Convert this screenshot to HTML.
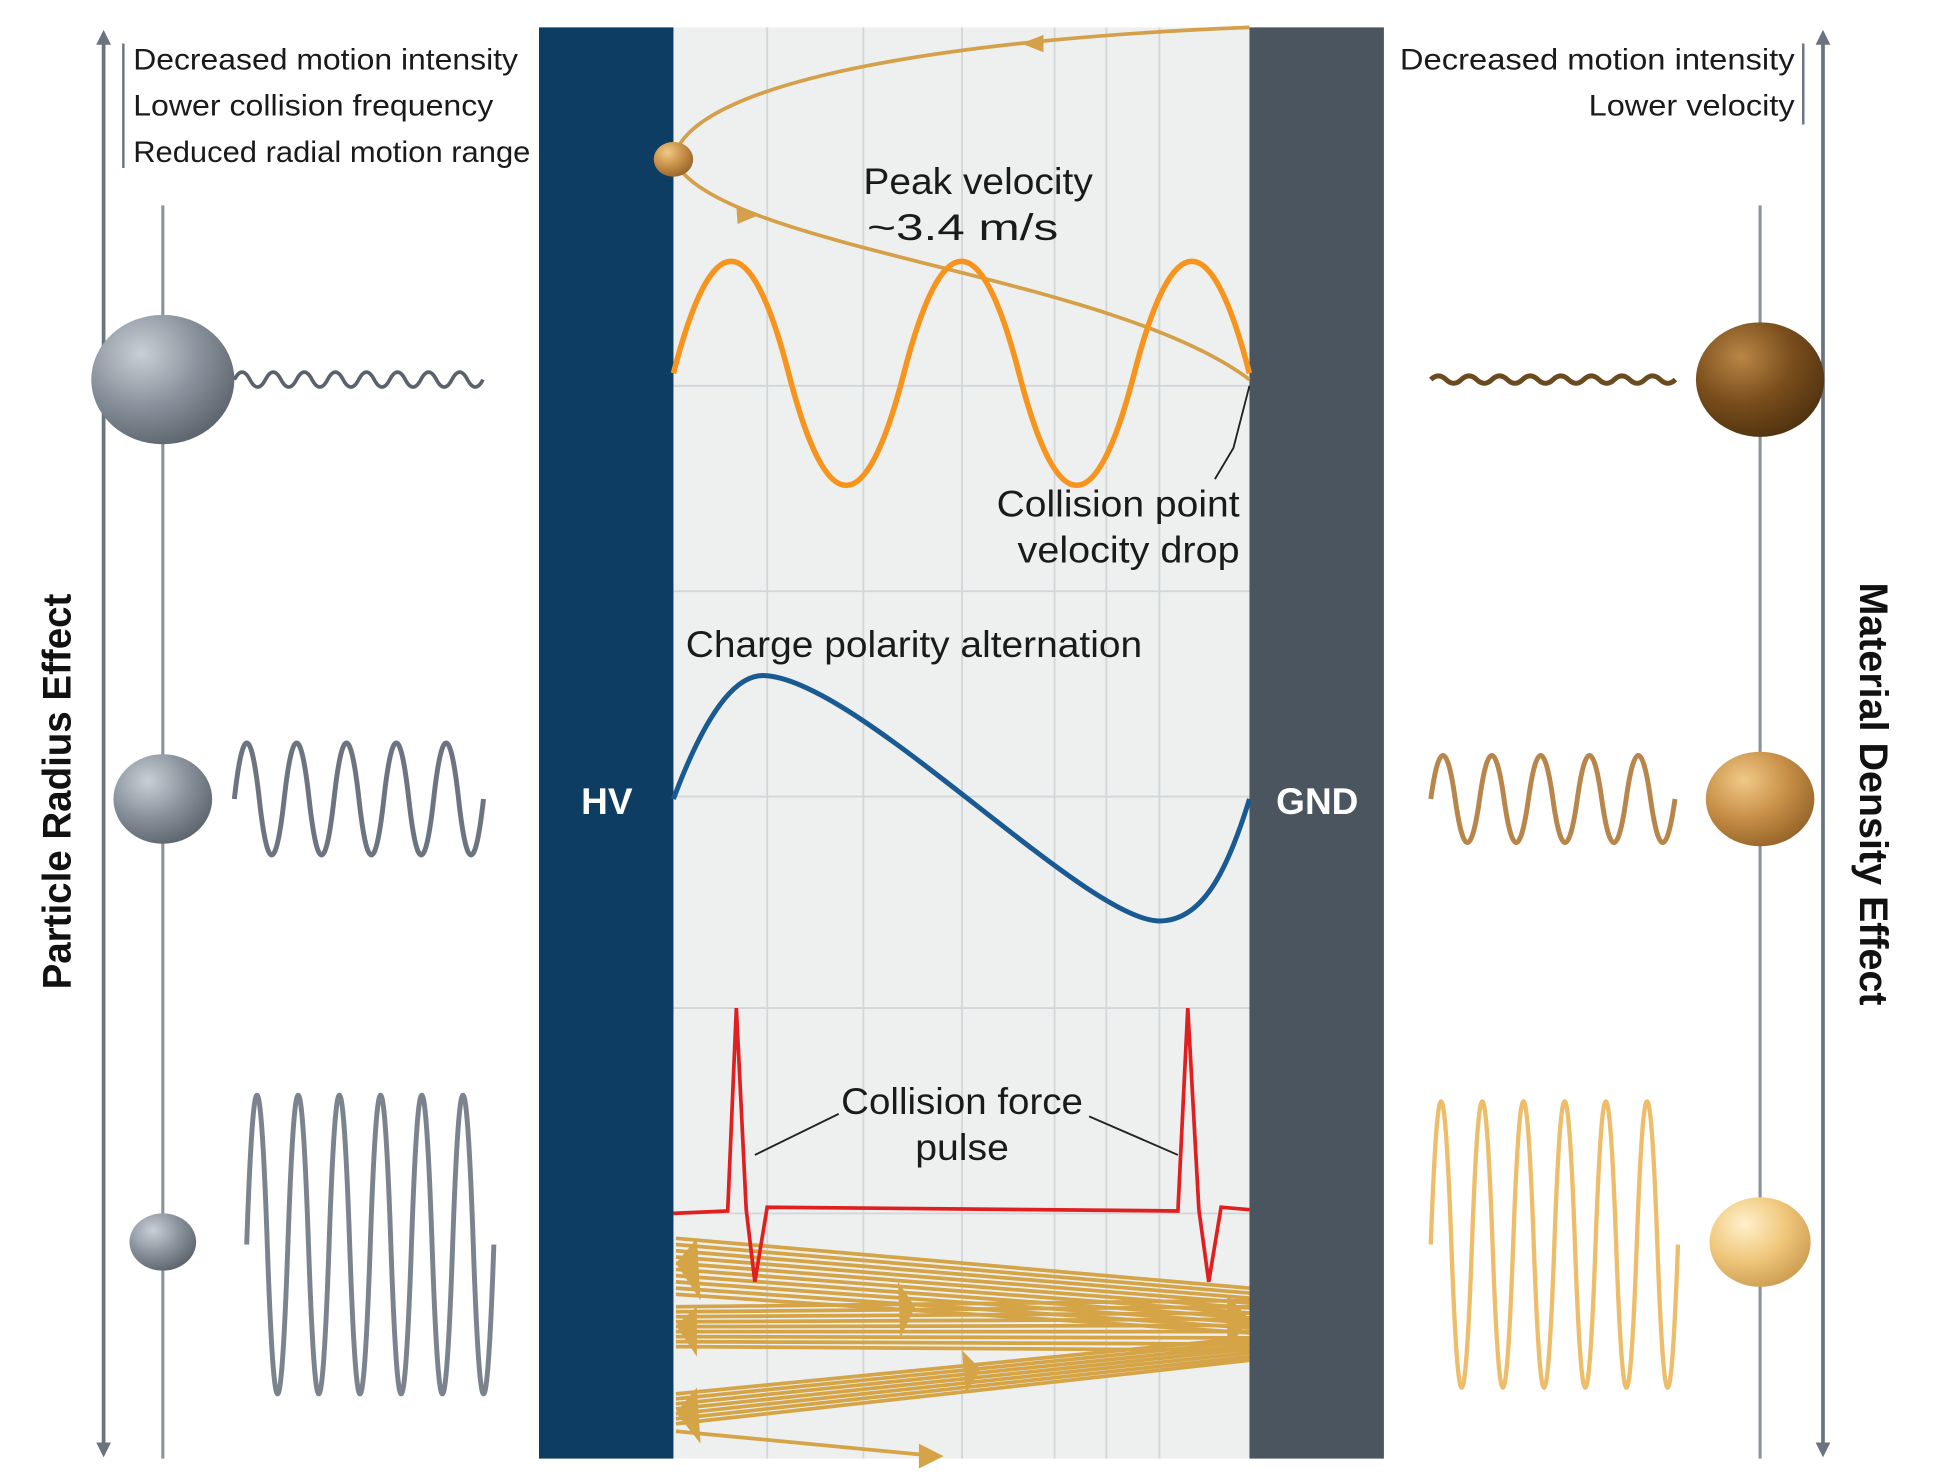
<!DOCTYPE html>
<html><head><meta charset="utf-8"><style>html,body{margin:0;padding:0;background:#fff}svg{display:block}text{font-family:"Liberation Sans",sans-serif}</style></head><body>
<svg width="1934" height="1481" viewBox="0 0 1568 1190" preserveAspectRatio="none" xmlns="http://www.w3.org/2000/svg">
<defs>
<radialGradient id="gs" cx="0.35" cy="0.3" r="0.8"><stop offset="0" stop-color="#c9cfd6"/><stop offset="0.5" stop-color="#8a939d"/><stop offset="1" stop-color="#555d66"/></radialGradient>
<radialGradient id="b1" cx="0.35" cy="0.3" r="0.8"><stop offset="0" stop-color="#b98646"/><stop offset="0.5" stop-color="#7a4e1c"/><stop offset="1" stop-color="#4a2e0e"/></radialGradient>
<radialGradient id="b2" cx="0.35" cy="0.3" r="0.8"><stop offset="0" stop-color="#f1c987"/><stop offset="0.5" stop-color="#c89048"/><stop offset="1" stop-color="#8e5e24"/></radialGradient>
<radialGradient id="b3" cx="0.35" cy="0.3" r="0.8"><stop offset="0" stop-color="#fff0cc"/><stop offset="0.5" stop-color="#f0c87c"/><stop offset="1" stop-color="#c8974c"/></radialGradient>
<marker id="ah" viewBox="0 0 10 10" refX="5" refY="5" markerWidth="4" markerHeight="4" orient="auto-start-reverse"><path d="M0,0L10,5L0,10z" fill="#6a7480"/></marker>
</defs>
<rect x="437" y="22" width="685" height="1150" fill="#eef0f0"/>
<g stroke="#d3d7da" stroke-width="1.5">
<line x1="622" y1="22" x2="622" y2="1172"/><line x1="700" y1="22" x2="700" y2="1172"/><line x1="780" y1="22" x2="780" y2="1172"/><line x1="855" y1="22" x2="855" y2="1172"/><line x1="897" y1="22" x2="897" y2="1172"/><line x1="940" y1="22" x2="940" y2="1172"/>
<line x1="546" y1="310" x2="1013" y2="310"/><line x1="546" y1="475" x2="1013" y2="475"/><line x1="546" y1="640" x2="1013" y2="640"/><line x1="546" y1="810" x2="1013" y2="810"/><line x1="546" y1="975" x2="1013" y2="975"/>
</g>
<rect x="437" y="22" width="109" height="1150" fill="#0e3d63"/>
<rect x="1013" y="22" width="109" height="1150" fill="#4b555f"/>
<text x="492" y="654" font-size="30" font-weight="bold" fill="#fff" text-anchor="middle">HV</text>
<text x="1068" y="654" font-size="30" font-weight="bold" fill="#fff" text-anchor="middle">GND</text>
<line x1="84" y1="30" x2="84" y2="1165" stroke="#6a7480" stroke-width="3" marker-start="url(#ah)" marker-end="url(#ah)"/>
<line x1="1478" y1="30" x2="1478" y2="1165" stroke="#6a7480" stroke-width="3" marker-start="url(#ah)" marker-end="url(#ah)"/>
<line x1="132" y1="165" x2="132" y2="1172" stroke="#8a929b" stroke-width="2.5"/>
<line x1="1427" y1="165" x2="1427" y2="1172" stroke="#8a929b" stroke-width="2.5"/>
<line x1="100" y1="35" x2="100" y2="135" stroke="#6a7480" stroke-width="2"/>
<line x1="1462" y1="35" x2="1462" y2="100" stroke="#6a7480" stroke-width="2"/>
<g font-size="24" fill="#1a1a1a">
<text x="108" y="56" textLength="312" lengthAdjust="spacingAndGlyphs">Decreased motion intensity</text>
<text x="108" y="93" textLength="292" lengthAdjust="spacingAndGlyphs">Lower collision frequency</text>
<text x="108" y="130" textLength="322" lengthAdjust="spacingAndGlyphs">Reduced radial motion range</text>
<text x="1135" y="56" textLength="320" lengthAdjust="spacingAndGlyphs">Decreased motion intensity</text>
<text x="1288" y="93" textLength="167" lengthAdjust="spacingAndGlyphs">Lower velocity</text>
</g>
<g font-size="30" fill="#1a1a1a">
<text x="700" y="156" textLength="186" lengthAdjust="spacingAndGlyphs">Peak velocity</text>
<text x="703" y="193" textLength="155" lengthAdjust="spacingAndGlyphs">~3.4 m/s</text>
<text x="808" y="415" textLength="197" lengthAdjust="spacingAndGlyphs">Collision point</text>
<text x="825" y="452" textLength="180" lengthAdjust="spacingAndGlyphs">velocity drop</text>
<text x="556" y="528" textLength="370" lengthAdjust="spacingAndGlyphs">Charge polarity alternation</text>
<text x="682" y="895" textLength="196" lengthAdjust="spacingAndGlyphs">Collision force</text>
<text x="742" y="932" textLength="76" lengthAdjust="spacingAndGlyphs">pulse</text>
</g>
<g font-size="32" font-weight="bold" fill="#111">
<text transform="translate(57,795) rotate(-90)" textLength="318" lengthAdjust="spacingAndGlyphs">Particle Radius Effect</text>
<text transform="translate(1508,468) rotate(90)" textLength="340" lengthAdjust="spacingAndGlyphs">Material Density Effect</text>
</g>
<path d="M1013,310 L1000,360 L985,385" stroke="#222" stroke-width="1.5" fill="none"/>
<path d="M680,895 L612,928" stroke="#222" stroke-width="1.5"/>
<path d="M883,897 L955,928" stroke="#222" stroke-width="1.5"/>
<path d="M1013,22 C800,30 560,60 546,128 C580,200 900,220 1013,305" stroke="#d4a04a" stroke-width="3" fill="none"/>
<path d="M828,35 L846,28 L846,42z" fill="#d4a04a"/>
<path d="M615,173 L597,166 L598,180z" fill="#d4a04a"/>
<ellipse cx="546" cy="128" rx="16" ry="14" fill="url(#b2)"/>
<path d="M546,300 q46.7,-180 93.4,0 t93.4,0 t93.4,0 t93.4,0 t93.4,0" stroke="#f7941d" stroke-width="4.5" fill="none"/>
<path d="M546,642 C575,565 600,540 622,543 C700,550 880,740 940,740 C975,740 995,700 1013,642" stroke="#1a5a92" stroke-width="4" fill="none"/>
<g stroke="#d4a447" stroke-width="3" fill="none">
<path d="M548,995L1013,1035M548,1000L1013,1039M548,1005L1013,1043M548,1010L1013,1047M548,1015L1013,1051M548,1020L1013,1055M548,1025L1013,1059M548,1030L1013,1063M548,1035L1013,1067M548,1040L1013,1071"/>
<path d="M548,1050L1013,1045M548,1054L1013,1050M548,1058L1013,1055M548,1062L1013,1060M548,1066L1013,1065M548,1070L1013,1070M548,1074L1013,1075M548,1078L1013,1080M548,1082L1013,1085"/>
<path d="M1013,1075L548,1120M1013,1078L548,1124M1013,1081L548,1128M1013,1084L548,1132M1013,1087L548,1136M1013,1090L548,1140M1013,1093L548,1144"/>
<path d="M548,1150L760,1170"/>
</g>
<g fill="#d4a447">
<path d="M548,1015L565,995L568,1045z"/><path d="M548,1065L565,1050L565,1090z"/><path d="M548,1135L565,1115L568,1160z"/>
<path d="M1013,1060L995,1040L995,1085z"/><path d="M742,1050L728,1030L730,1075z"/><path d="M795,1100L780,1085L783,1120z"/>
<path d="M765,1170L745,1160L745,1180z"/>
</g>
<path d="M546,975 L590,973 L597,810 L605,972 L612,1030 L622,970 L955,973 L963,810 L972,972 L980,1030 L990,970 L1013,972" stroke="#e02020" stroke-width="3" fill="none"/>
<ellipse cx="132" cy="305" rx="58" ry="52" fill="url(#gs)"/>
<ellipse cx="132" cy="642" rx="40" ry="36" fill="url(#gs)"/>
<ellipse cx="132" cy="998" rx="27" ry="23" fill="url(#gs)"/>
<path d="M190,305 q6.3,-12 12.6,0 t12.6,0 t12.6,0 t12.6,0 t12.6,0 t12.6,0 t12.6,0 t12.6,0 t12.6,0 t12.6,0 t12.6,0 t12.6,0 t12.6,0 t12.6,0 t12.6,0 t12.6,0" stroke="#5a636c" stroke-width="3" fill="none"/>
<path d="M190,642 q10.1,-90 20.2,0 t20.2,0 t20.2,0 t20.2,0 t20.2,0 t20.2,0 t20.2,0 t20.2,0 t20.2,0 t20.2,0" stroke="#6b7480" stroke-width="4" fill="none"/>
<path d="M200,1000 q8.35,-240 16.7,0 t16.7,0 t16.7,0 t16.7,0 t16.7,0 t16.7,0 t16.7,0 t16.7,0 t16.7,0 t16.7,0 t16.7,0 t16.7,0" stroke="#7b848e" stroke-width="4" fill="none"/>
<ellipse cx="1427" cy="305" rx="52" ry="46" fill="url(#b1)"/>
<ellipse cx="1427" cy="642" rx="44" ry="38" fill="url(#b2)"/>
<ellipse cx="1427" cy="998" rx="41" ry="36" fill="url(#b3)"/>
<path d="M1160,305 q6.2,-6 12.4,0 t12.4,0 t12.4,0 t12.4,0 t12.4,0 t12.4,0 t12.4,0 t12.4,0 t12.4,0 t12.4,0 t12.4,0 t12.4,0 t12.4,0 t12.4,0 t12.4,0 t12.4,0" stroke="#6b4a1e" stroke-width="4" fill="none"/>
<path d="M1160,642 q9.9,-70 19.8,0 t19.8,0 t19.8,0 t19.8,0 t19.8,0 t19.8,0 t19.8,0 t19.8,0 t19.8,0 t19.8,0" stroke="#b8864a" stroke-width="4" fill="none"/>
<path d="M1160,1000 q8.35,-230 16.7,0 t16.7,0 t16.7,0 t16.7,0 t16.7,0 t16.7,0 t16.7,0 t16.7,0 t16.7,0 t16.7,0 t16.7,0 t16.7,0" stroke="#edbd6a" stroke-width="3.5" fill="none"/>
</svg>
</body></html>
